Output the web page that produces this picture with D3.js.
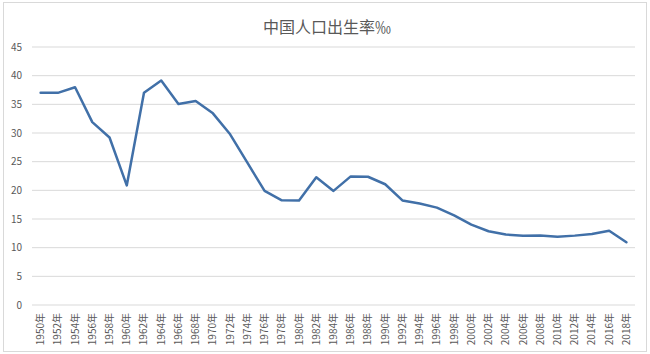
<!DOCTYPE html>
<html>
<head>
<meta charset="utf-8">
<script src="https://cdn.jsdelivr.net/npm/d3@7"></script>
<style>
  body { margin: 0; background: #fff; }
  text { font-family: "Noto Sans CJK SC", "Open Sans", sans-serif; fill: #595959; }
</style>
</head>
<body>
<svg id="canvas" width="650" height="354"></svg>
<script>
let years = ['1950年','1952年','1954年','1956年','1958年','1960年','1962年','1964年','1966年','1968年',
             '1970年','1972年','1974年','1976年','1978年','1980年','1982年','1984年','1986年','1988年',
             '1990年','1992年','1994年','1996年','1998年','2000年','2002年','2004年','2006年','2008年',
             '2010年','2012年','2014年','2016年','2018年']
let birthRate = [37.0, 37.0, 37.97, 31.9, 29.22, 20.86, 37.01, 39.14, 35.05, 35.59,
                 33.43, 29.77, 24.82, 19.91, 18.25, 18.21, 22.28, 19.9, 22.43, 22.37,
                 21.06, 18.24, 17.7, 16.98, 15.64, 14.03, 12.86, 12.29, 12.09, 12.14,
                 11.9, 12.1, 12.37, 12.95, 10.94]
let yTicks = [0, 5, 10, 15, 20, 25, 30, 35, 40, 45]
let title = '中国人口出生率‰'

let canvas = d3.select('#canvas')

// chart frame
canvas.append('rect')
    .attr('x', 3.5).attr('y', 2.5)
    .attr('width', 643).attr('height', 349)
    .attr('fill', '#fff')
    .attr('stroke', '#d9d9d9')

canvas.append('text')
    .text(title)
    .attr('x', 327)
    .attr('y', 33)
    .attr('text-anchor', 'middle')
    .style('font-size', '16px')

let xScale = d3.scaleBand()
    .domain(years)
    .range([32, 635])

let yScale = d3.scaleLinear()
    .domain([0, 45])
    .range([305, 47])

// gridlines
canvas.append('g')
    .selectAll('line')
    .data(yTicks)
    .enter()
    .append('line')
    .attr('x1', 32).attr('x2', 635)
    .attr('y1', (d) => yScale(d)).attr('y2', (d) => yScale(d))
    .attr('stroke', '#d9d9d9')
    .attr('stroke-width', 1)

// y labels
let yAxis = d3.axisLeft(yScale).tickValues(yTicks).tickSize(0).tickPadding(0)
canvas.append('g')
    .attr('transform', 'translate(22, 0)')
    .call(yAxis)
    .call((g) => g.select('.domain').remove())
    .selectAll('text')
    .style('font-size', '10px')
    .style('fill', '#595959')

// x labels, rotated
let xAxis = d3.axisBottom(xScale).tickSize(0).tickPadding(0)
canvas.append('g')
    .attr('transform', 'translate(0, 309)')
    .call(xAxis)
    .call((g) => g.select('.domain').remove())
    .selectAll('text')
    .attr('transform', 'rotate(-90)')
    .attr('text-anchor', 'end')
    .attr('x', -4)
    .attr('y', 0)
    .attr('dy', '0.35em')
    .style('font-size', '10px')
    .style('fill', '#595959')

let line = d3.line()
    .x((d, i) => xScale(years[i]) + xScale.bandwidth() / 2)
    .y((d) => yScale(d))

canvas.append('path')
    .datum(birthRate)
    .attr('d', line)
    .attr('fill', 'none')
    .attr('stroke', '#4170a8')
    .attr('stroke-width', 2.5)
    .attr('stroke-linejoin', 'round')
    .attr('stroke-linecap', 'round')
</script>
</body>
</html>
